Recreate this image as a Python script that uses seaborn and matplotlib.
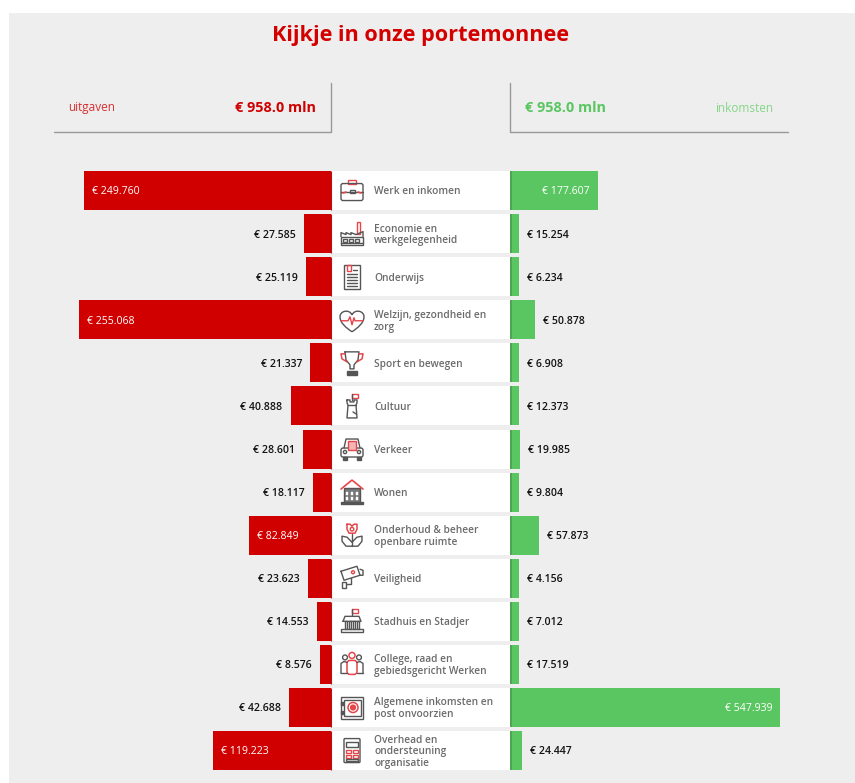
import numpy as np
import seaborn as sns
import matplotlib.pyplot as plt
from matplotlib.patches import Rectangle, Circle, PathPatch, FancyBboxPatch
from matplotlib.path import Path

categories = ['Werk en inkomen', 'Economie en\nwerkgelegenheid', 'Onderwijs',
              'Welzijn, gezondheid en\nzorg', 'Sport en bewegen', 'Cultuur', 'Verkeer',
              'Wonen', 'Onderhoud & beheer\nopenbare ruimte', 'Veiligheid',
              'Stadhuis en Stadjer', 'College, raad en\ngebiedsgericht Werken',
              'Algemene inkomsten en\npost onvoorzien',
              'Overhead en\nondersteuning\norganisatie']
uitgaven = [249760, 27585, 25119, 255068, 21337, 40888, 28601,
            18117, 82849, 23623, 14553, 8576, 42688, 119223]
inkomsten = [177607, 15254, 6234, 50878, 6908, 12373, 19985,
             9804, 57873, 4156, 7012, 17519, 547939, 24447]
totaal_uit = '€ 958.0 mln'
totaal_in = '€ 958.0 mln'

RED = '#d00000'
DARK_RED = '#b01414'
GREEN = '#5ac661'
DARK_GREEN = '#4ea555'
LIGHT_GREEN = '#85d688'
GREY = '#eeeeee'
LINE = '#999999'
ICON = '#555555'
ICON_RED = '#e6454a'
LABEL = '#6b6b6b'

W, H = 855, 783
TOP, PITCH = 169.0, 43.08
BOTTOM = TOP + 14 * PITCH
LEFT_X, RIGHT_X = 331, 510
# the source draws small bars with a minimum length
MIN_UIT, MIN_IN = 11000, 18000
PX_UIT, PX_IN = 0.000989, 0.000493

sns.set_theme(style='white')
plt.rcParams['font.family'] = ['Open Sans', 'DejaVu Sans']


def px_axes(fig, x0, y0, x1, y1):
    return fig.add_axes([x0 / W, 1 - y1 / H, (x1 - x0) / W, (y1 - y0) / H])


def bars(ax, values, color):
    sns.barplot(x=values, y=categories, orient='h', color=color, saturation=1,
                width=0.905, linewidth=0, ax=ax, legend=False)
    ax.set_ylim(13.5, -0.5)
    ax.set_axis_off()
    ax.patch.set_alpha(0)


def value_labels(ax, values, drawn, sign, inside_from):
    for i, (v, d) in enumerate(zip(values, drawn)):
        txt = '€ ' + f'{v:,}'.replace(',', '.')
        if v >= inside_from:
            off, color = -8 * sign, 'white'
            weight = 'normal'
        else:
            off, color = 8 * sign, '#111111'
            weight = 'semibold'
        ha = 'left' if (off > 0) else 'right'
        ax.annotate(txt, (d, i), xytext=(off * 0.72, -1), textcoords='offset points',
                    ha=ha, va='center', color=color, fontsize=7.6, weight=weight)


fig = plt.figure(figsize=(W / 100, H / 100), dpi=100, facecolor='white')
fig.patches.append(Rectangle((9 / W, 0), (W - 9) / W, (H - 13) / H, transform=fig.transFigure,
                             facecolor=GREY, edgecolor='none', zorder=-5))

# left bars
uit_drawn = np.maximum(uitgaven, MIN_UIT)
ax_left = px_axes(fig, 9, TOP, LEFT_X, BOTTOM)
bars(ax_left, uit_drawn, RED)
ax_left.set_xlim((LEFT_X - 9) / PX_UIT, 0)
value_labels(ax_left, uitgaven, uit_drawn, -1, 60000)

# right bars
in_drawn = np.maximum(inkomsten, MIN_IN)
ax_right = px_axes(fig, RIGHT_X, TOP, W, BOTTOM)
bars(ax_right, in_drawn, GREEN)
ax_right.set_xlim(0, (W - RIGHT_X) / PX_IN)
value_labels(ax_right, inkomsten, in_drawn, 1, 100000)

# middle white block with the theme names
ax_mid = px_axes(fig, LEFT_X, TOP, RIGHT_X, BOTTOM)
bars(ax_mid, [RIGHT_X - LEFT_X] * len(categories), 'white')
ax_mid.set_xlim(0, RIGHT_X - LEFT_X)
for i, name in enumerate(categories):
    ax_mid.annotate(name, (43, i), xytext=(0, -1), textcoords='offset points', ha='left',
                    va='center', fontsize=7.3, weight='semibold', color=LABEL, linespacing=1.12)

# overlay in pixel coordinates for title, header and icons
ov = fig.add_axes([0, 0, 1, 1])
ov.set_xlim(0, W)
ov.set_ylim(H, 0)
ov.set_axis_off()
ov.patch.set_alpha(0)

ov.text(420.5, 35, 'Kijkje in onze portemonnee', ha='center', va='center',
        color='#d40000', fontsize=15.6, weight='bold')
ov.text(68, 108, 'uitgaven', ha='left', va='center', color='#d83030', fontsize=8.5)
ov.text(316, 108.5, totaal_uit, ha='right', va='center', color=RED, fontsize=10.4, weight='bold')
ov.text(525, 108.5, totaal_in, ha='left', va='center', color=GREEN, fontsize=10.4, weight='bold')
ov.text(773, 108, 'inkomsten', ha='right', va='center', color=LIGHT_GREEN, fontsize=8.5)
ov.plot([54, 331, 331], [132, 132, 83], color=LINE, lw=1)
ov.plot([510, 510, 788], [83, 132, 132], color=LINE, lw=1)

# darker inner edge of every bar
for i in range(14):
    y0 = TOP + (i + 0.0475) * PITCH
    y1 = TOP + (i + 0.9525) * PITCH
    ov.plot([330.6, 330.6], [y0, y1], color=DARK_RED, lw=0.8, solid_capstyle='butt')
    ov.plot([511, 511], [y0, y1], color=DARK_GREEN, lw=1.4, solid_capstyle='butt')


class Icon:
    def __init__(self, ax, cx, cy):
        self.ax, self.cx, self.cy = ax, cx, cy

    def line(self, pts, color=ICON, lw=1.0):
        xs = [self.cx + p[0] for p in pts]
        ys = [self.cy + p[1] for p in pts]
        self.ax.plot(xs, ys, color=color, lw=lw, solid_capstyle='round')

    def rect(self, x0, y0, x1, y1, color=ICON, fill='none', lw=1.0):
        self.ax.add_patch(Rectangle((self.cx + x0, self.cy + y0), x1 - x0, y1 - y0,
                                    facecolor=fill, edgecolor=color, lw=lw))

    def round(self, x0, y0, x1, y1, r=2, color=ICON, lw=1.0):
        self.ax.add_patch(FancyBboxPatch((self.cx + x0, self.cy + y0), x1 - x0, y1 - y0,
                                         boxstyle=f'round,pad=0,rounding_size={r}',
                                         facecolor='none', edgecolor=color, lw=lw))

    def circle(self, x, y, r, color=ICON, fill='none', lw=1.0):
        self.ax.add_patch(Circle((self.cx + x, self.cy + y), r, facecolor=fill,
                                 edgecolor=color, lw=lw))

    def curve(self, verts, codes, color=ICON, lw=1.0):
        pts = [(self.cx + a, self.cy + b) for a, b in verts]
        self.ax.add_patch(PathPatch(Path(pts, codes), facecolor='none', edgecolor=color, lw=lw))


def briefcase(ic):
    ic.rect(-4, -11, 4, -7, ICON_RED)
    ic.round(-11, -7, 11, 10)
    ic.line([(-11, 1), (11, 1)])
    ic.rect(-2.5, -1, 2.5, 2)
    ic.line([(-9, 2.5), (-6, 1.5)], ICON_RED, 1.2)
    ic.line([(6, 1.5), (9, 2.5)], ICON_RED, 1.2)


def factory(ic):
    ic.rect(5, -12, 8, 0, ICON_RED)
    ic.line([(-11, 3), (-11, -1), (-6, 1), (-6, -1), (-1, 1), (-1, -1), (4, 1), (11, -2), (11, 3)])
    ic.rect(-11, 3, 11, 11)
    for x in (-9, -3, 3):
        ic.rect(x, 5, x + 4, 8)
    ic.line([(-11, 9.5), (11, 9.5)])


def document(ic):
    ic.rect(-8, -12, 8, 12)
    ic.rect(-5, -12, -1, -6, ICON_RED)
    ic.line([(1, -7), (5, -7)])
    for y in (-3, 0, 3, 6, 9):
        ic.line([(-5, y), (5, y)])


def heart(ic):
    v = [(0, 12), (-6, 8), (-12, 3), (-12, -3), (-12, -9), (-3, -11), (0, -5),
         (3, -11), (12, -9), (12, -3), (12, 3), (6, 8), (0, 12)]
    c = [Path.MOVETO] + [Path.CURVE4] * 12
    ic.curve(v, c)
    ic.line([(-11, 1), (-4, 1), (-2, -3), (0, 5), (2, -2), (3, 1), (11, 1)], ICON_RED, 1.0)


def trophy(ic):
    ic.line([(-7, -11), (7, -11), (6, -3), (2, 2), (2, 6), (-2, 6), (-2, 2), (-6, -3), (-7, -11)])
    ic.line([(-7, -9), (-11, -9), (-10, -4), (-5, -1)], ICON_RED, 1.1)
    ic.line([(7, -9), (11, -9), (10, -4), (5, -1)], ICON_RED, 1.1)
    ic.rect(-5, 8, 5, 12, ICON, ICON)


def tower(ic):
    ic.line([(0, -6), (0, -12)], ICON)
    ic.rect(0, -12, 6, -8, ICON_RED)
    ic.line([(-5, -6), (-5, -3), (-4, -1), (-5, 12), (5, 12), (4, -1), (5, -3), (5, -6), (2, -6),
             (2, -4), (-2, -4), (-2, -6), (-5, -6)])
    ic.line([(-4, -1), (4, -1)])
    ic.line([(1, 6), (4, 8)])


def car(ic):
    ic.line([(-8, -1), (-6, -10), (6, -10), (8, -1)])
    ic.round(-11, -1, 11, 8)
    ic.rect(-4, -8, 4, 1, ICON_RED, '#f5b5b5')
    ic.circle(-7, 3, 1.6)
    ic.circle(7, 3, 1.6)
    ic.rect(-9, 8, -5, 11, ICON, ICON)
    ic.rect(5, 8, 9, 11, ICON, ICON)


def house(ic):
    ic.rect(-8, -4, 8, 11, ICON, '#777777')
    ic.rect(-11, 10, 11, 12, ICON, ICON)
    ic.line([(-11, -3), (-5, -8), (0, -12), (5, -8), (11, -3)], ICON_RED, 1.2)
    for x in (-6, -1, 4):
        for y in (0, 5):
            ic.rect(x, y, x + 2, y + 3, 'white', 'white', 0.3)


def flower(ic):
    ic.line([(0, -1), (0, 11)])
    ic.line([(0, 11), (-6, 11), (-10, 6), (-10, 1), (-5, 2), (0, 7)])
    ic.line([(0, 11), (6, 11), (10, 6), (10, 1), (5, 2), (0, 7)])
    ic.line([(-5, -11), (-2, -11), (0, -9), (2, -11), (5, -11), (5, -6), (3, -2), (-3, -2),
             (-5, -6), (-5, -11)], ICON_RED, 1.1)
    ic.circle(0, -6, 1.8, ICON_RED)


def camera(ic):
    ic.line([(-11, -7), (5, -12), (8, -3), (-8, 2), (-11, -7)])
    ic.circle(1, -6, 1.5, ICON_RED)
    ic.line([(8, -9), (11, -8), (11, -3), (8, -3)])
    ic.line([(-1, 0), (-1, 6), (-6, 6)])
    ic.rect(-10, 4, -6, 10)


def townhall(ic):
    ic.line([(0, -6), (0, -12)])
    ic.rect(0, -12, 6, -8, ICON_RED)
    ic.line([(-9, 0), (-7, -5), (7, -5), (9, 0), (-9, 0)])
    for x in (-7, -3, 1, 5):
        ic.rect(x, 0, x + 2, 8)
    ic.rect(-11, 8, 11, 11)


def people(ic):
    ic.circle(-7, -7, 2.4)
    ic.circle(7, -7, 2.4)
    ic.line([(-11, 9), (-11, -1), (-8, -3), (-5, -2)])
    ic.line([(11, 9), (11, -1), (8, -3), (5, -2)])
    ic.line([(-11, 9), (-5, 9)])
    ic.line([(11, 9), (5, 9)])
    ic.circle(0, -9, 3, ICON_RED, lw=1.1)
    ic.round(-5, -4, 5, 10, 3, ICON_RED, 1.1)


def safe(ic):
    ic.rect(-11, -11, 11, 11)
    ic.rect(-8, -8, 9, 8)
    ic.circle(1, 0, 5, ICON_RED, lw=1.1)
    ic.circle(1, 0, 2.4, ICON_RED, ICON_RED)
    ic.rect(-11, -6, -9, -3, ICON, ICON)
    ic.rect(-11, 3, -9, 6, ICON, ICON)


def calculator(ic):
    ic.round(-8, -12, 8, 12, 1)
    ic.rect(-6, -9, 6, -4)
    for y in (-1, 4):
        for x in (-6, 1):
            ic.rect(x, y, x + 5, y + 3, ICON_RED)
    ic.rect(-6, 8.5, 6, 10, ICON)


icons = [briefcase, factory, document, heart, trophy, tower, car,
         house, flower, camera, townhall, people, safe, calculator]
for i, draw in enumerate(icons):
    draw(Icon(ov, 352, TOP + (i + 0.5) * PITCH))
ov.set_xlim(0, W)
ov.set_ylim(H, 0)

fig.savefig('out.png', dpi=100)
